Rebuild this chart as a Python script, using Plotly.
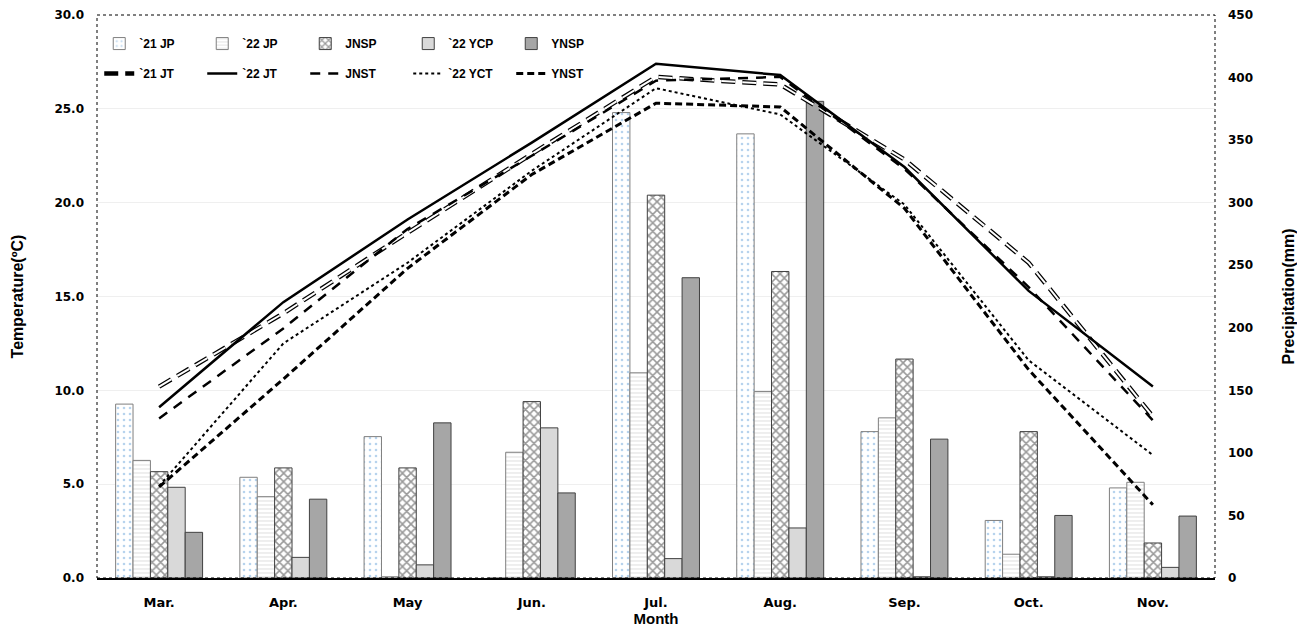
import plotly.graph_objects as go

months = ["Mar.", "Apr.", "May", "Jun.", "Jul.", "Aug.", "Sep.", "Oct.", "Nov."]

# Precipitation (mm)
jp21 = [139, 80.5, 113, 0, 372, 355, 117, 46, 72]
jp22 = [94, 65, 1, 100.5, 164, 149, 128, 19, 76.5]
jnsp = [85, 88, 88, 141, 306, 245, 175, 117, 28]
ycp22 = [72.5, 16.5, 10.5, 120, 15.5, 40, 1, 1, 8.5]
ynsp = [36.5, 63, 124, 68, 240, 381, 111, 50, 49.5]

# Temperature (°C)
jt21 = [10.2, 14.1, 18.4, 22.6, 26.7, 26.3, 22.3, 16.8, 8.6]
jt22 = [9.1, 14.7, 19.1, 23.2, 27.4, 26.8, 21.9, 15.3, 10.2]
jnst = [8.5, 13.3, 18.6, 22.5, 26.5, 26.7, 21.8, 15.5, 8.4]
yct22 = [4.9, 12.5, 16.8, 21.7, 26.1, 24.7, 19.9, 11.6, 6.55]
ynst = [4.85, 10.6, 16.5, 21.5, 25.3, 25.1, 19.7, 11.1, 3.9]

edge = dict(color="#404040", width=1)
fig = go.Figure()

fig.add_trace(go.Bar(x=months, y=jp21, name="`21 JP", legend="legend",
                     marker=dict(color="white", line=dict(color="#7f7f7f", width=1),
                                 pattern=dict(shape=".", fgcolor="#6fa8dc", bgcolor="white", size=6, solidity=0.15))))
fig.add_trace(go.Bar(x=months, y=jp22, name="`22 JP", legend="legend",
                     marker=dict(color="white", line=dict(color="#7f7f7f", width=1),
                                 pattern=dict(shape="-", fgcolor="#bdbdbd", bgcolor="white", size=4, solidity=0.25))))
fig.add_trace(go.Bar(x=months, y=jnsp, name="JNSP", legend="legend",
                     marker=dict(color="white", line=edge,
                                 pattern=dict(shape="x", fgcolor="#333333", bgcolor="white", size=6, solidity=0.45))))
fig.add_trace(go.Bar(x=months, y=ycp22, name="`22 YCP", legend="legend",
                     marker=dict(color="#d9d9d9", line=edge)))
fig.add_trace(go.Bar(x=months, y=ynsp, name="YNSP", legend="legend",
                     marker=dict(color="#a6a6a6", line=edge)))

# Temperature lines on overlaying axis (drawn above bars)
fig.add_trace(go.Scatter(x=months, y=jt21, name="`21 JT", mode="lines", yaxis="y2", legend="legend2",
                         line=dict(color="black", width=4.5, dash="14px,7px")))
fig.add_trace(go.Scatter(x=months, y=jt21, name="`21 JT", mode="lines", yaxis="y2", legend="legend2",
                         showlegend=False, hoverinfo="skip",
                         line=dict(color="white", width=2, dash="14px,7px")))
fig.add_trace(go.Scatter(x=months, y=jt22, name="`22 JT", mode="lines", yaxis="y2", legend="legend2",
                         line=dict(color="black", width=2.5)))
fig.add_trace(go.Scatter(x=months, y=jnst, name="JNST", mode="lines", yaxis="y2", legend="legend2",
                         line=dict(color="black", width=2.5, dash="10px,8px")))
fig.add_trace(go.Scatter(x=months, y=yct22, name="`22 YCT", mode="lines", yaxis="y2", legend="legend2",
                         line=dict(color="black", width=2, dash="dot")))
fig.add_trace(go.Scatter(x=months, y=ynst, name="YNST", mode="lines", yaxis="y2", legend="legend2",
                         line=dict(color="black", width=3, dash="7px,4px")))

tickfont = dict(family="DejaVu Sans", size=12, color="black", weight="bold")
titlefont = dict(family="Liberation Sans", size=16, color="black", weight="bold")
legfont = dict(family="Liberation Sans", size=12, color="black", weight="bold")

fig.update_layout(
    width=1297, height=619,
    margin=dict(l=89, r=90, t=7, b=49, autoexpand=False),
    paper_bgcolor="white", plot_bgcolor="white",
    barmode="group", bargap=0.30, bargroupgap=0,
    xaxis=dict(type="category", showline=True, linecolor="black", linewidth=2,
               automargin=False,
               tickfont=dict(family="DejaVu Sans", size=13, color="black", weight="bold"),
               ticks="", ticklabelstandoff=11,
               title=dict(text="Month", font=dict(family="Liberation Sans", size=15, color="black", weight="bold"),
                          standoff=0)),
    yaxis=dict(side="right", range=[0, 450], dtick=50, tickformat="d", automargin=False,
               showgrid=False, zeroline=False, showline=False,
               tickfont=tickfont, ticklabelstandoff=12,
               title=dict(text="Precipitation(mm)", font=titlefont, standoff=30)),
    yaxis2=dict(overlaying="y", side="left", range=[0, 30], dtick=5, tickformat=".1f", automargin=False,
                showgrid=True, gridcolor="#efefef", gridwidth=1, zeroline=False, showline=False,
                tickfont=tickfont, ticklabelstandoff=12,
                title=dict(text="Temperature(ºC)", font=titlefont, standoff=26)),
    legend=dict(orientation="h", x=0.002, y=0.975, xanchor="left", yanchor="top",
                font=legfont, entrywidth=58, bgcolor="rgba(0,0,0,0)",
                traceorder="normal"),
    legend2=dict(orientation="h", x=0.002, y=0.922, xanchor="left", yanchor="top",
                 font=legfont, entrywidth=58, bgcolor="rgba(0,0,0,0)",
                 traceorder="normal"),
    shapes=[dict(type="rect", xref="paper", yref="paper", x0=0, x1=1, y0=0, y1=1,
                 line=dict(color="black", width=1, dash="dot"), layer="above")],
    showlegend=True,
)

fig.write_html("out.html")
